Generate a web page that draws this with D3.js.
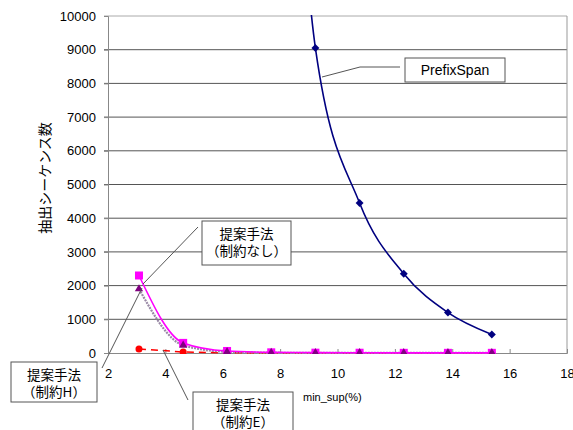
<!DOCTYPE html>
<html>
<head>
<meta charset="utf-8">
<script src="https://cdn.jsdelivr.net/npm/d3@7"></script>
<style>
  body { margin: 0; background: #fff; }
  text { font-family: "Liberation Sans", Arial, sans-serif; }
  .jp { font-family: "Noto Sans CJK JP", sans-serif; }
</style>
</head>
<body>
<svg id="chart" width="573" height="430"></svg>
<script>
// min_sup (%) values
const minSup = [3.08, 4.62, 6.15, 7.69, 9.23, 10.77, 12.31, 13.85, 15.38];
const prefixSpan = [null, null, null, 30000, 9050, 4450, 2350, 1200, 550];
const noConstraint = [2300, 300, 60, 20, 10, 8, 5, 5, 5];
const constraintH = [1900, 230, 35, 10, 5, 5, 3, 3, 3];
const constraintE = [120, 30, 5, 2, 1, 1, 1, 1, 1];
const xTicks = [2, 4, 6, 8, 10, 12, 14, 16, 18];
const yTicks = [0, 1000, 2000, 3000, 4000, 5000, 6000, 7000, 8000, 9000, 10000];

const svg = d3.select("#chart");
const pLeft = 108, pRight = 567, pTop = 16, pBottom = 353;

const x = d3.scaleLinear([2, 18], [pLeft, pRight]);
const y = d3.scaleLinear([0, 10000], [pBottom, pTop]);

svg.append("defs").append("clipPath").attr("id", "plot")
  .append("rect").attr("x", pLeft).attr("y", pTop - 1)
  .attr("width", pRight - pLeft).attr("height", pBottom - pTop + 2);

// gridlines
svg.append("g").selectAll("line").data(yTicks.slice(1, -1)).join("line")
  .attr("x1", pLeft - 4).attr("x2", pRight)
  .attr("y1", d => y(d)).attr("y2", d => y(d))
  .attr("stroke", "#555").attr("stroke-width", 1);

// plot frame top/right
svg.append("line").attr("x1", pLeft - 4).attr("x2", pRight).attr("y1", pTop).attr("y2", pTop)
  .attr("stroke", "#aaa");
svg.append("line").attr("x1", pRight).attr("x2", pRight).attr("y1", pTop).attr("y2", pBottom)
  .attr("stroke", "#999");

// axes
const yAxis = svg.append("g").attr("transform", `translate(${pLeft},0)`)
  .call(d3.axisLeft(y).tickValues(yTicks).tickSize(4).tickPadding(8).tickFormat(d3.format("d")));
const xAxis = svg.append("g").attr("transform", `translate(0,${pBottom})`)
  .call(d3.axisBottom(x).tickValues(xTicks).tickSize(-4).tickPadding(16));
[yAxis, xAxis].forEach(g => {
  g.select(".domain").attr("stroke", "#888");
  g.selectAll(".tick line").attr("stroke", "#888");
  g.selectAll("text").attr("font-size", "13px").attr("fill", "#000")
    .attr("font-family", "'Liberation Sans', Arial, sans-serif");
});

const plot = svg.append("g").attr("clip-path", "url(#plot)");

function points(vals) {
  return minSup.map((m, i) => [m, vals[i]]).filter(d => d[1] != null);
}
const smooth = d3.line().x(d => x(d[0])).y(d => y(d[1])).curve(d3.curveMonotoneX);
const straight = d3.line().x(d => x(d[0])).y(d => y(d[1]));

// lines
plot.append("path").attr("d", straight(points(constraintE)))
  .attr("fill", "none").attr("stroke", "#f00").attr("stroke-width", 1.5)
  .attr("stroke-dasharray", "7,5");
plot.append("path").attr("d", smooth(points(constraintH)))
  .attr("fill", "none").attr("stroke", "#9a8aa6").attr("stroke-width", 2.2)
  .attr("stroke-dasharray", "2,1");
plot.append("path").attr("d", smooth(points(noConstraint)))
  .attr("fill", "none").attr("stroke", "#ff00ff").attr("stroke-width", 1.6);
plot.append("path").attr("d", smooth(points(prefixSpan)))
  .attr("fill", "none").attr("stroke", "#000080").attr("stroke-width", 1.6);

// markers
plot.append("g").selectAll("circle").data(points(constraintE)).join("circle")
  .attr("cx", d => x(d[0])).attr("cy", d => y(d[1])).attr("r", 3.5).attr("fill", "#f00");
plot.append("g").selectAll("rect").data(points(noConstraint)).join("rect")
  .attr("x", d => x(d[0]) - 4).attr("y", d => y(d[1]) - 4)
  .attr("width", 8).attr("height", 8).attr("fill", "#ff00ff");
plot.append("g").selectAll("path").data(points(constraintH)).join("path")
  .attr("transform", d => `translate(${x(d[0])},${y(d[1])})`)
  .attr("d", d3.symbol(d3.symbolTriangle, 30)).attr("fill", "#800080");
plot.append("g").selectAll("path").data(points(prefixSpan)).join("path")
  .attr("transform", d => `translate(${x(d[0])},${y(d[1])})`)
  .attr("d", d3.symbol(d3.symbolDiamond2, 40)).attr("fill", "#000080");

// axis titles
svg.append("text").attr("class", "jp").attr("transform", "translate(50,178) rotate(-90)")
  .attr("text-anchor", "middle").attr("font-size", "14px").text("抽出シーケンス数");
svg.append("text").attr("x", 303).attr("y", 401).attr("font-size", "11px").text("min_sup(%)");

// callouts
const lines = [
  [[322, 77], [360, 67], [400, 67]],
  [[198, 227], [143, 284]],
  [[102, 368], [142, 288]],
  [[163, 350], [188, 400]]
];
svg.append("g").selectAll("path").data(lines).join("path")
  .attr("d", d => d3.line()(d)).attr("fill", "none").attr("stroke", "#555").attr("stroke-width", 1);

const boxes = [
  { x: 405, y: 58, w: 100, h: 24, t: ["PrefixSpan"] },
  { x: 202, y: 221, w: 89, h: 44, t: ["提案手法", "（制約なし）"] },
  { x: 11, y: 362, w: 86, h: 40, t: ["提案手法", "（制約H）"] },
  { x: 193, y: 392, w: 100, h: 44, t: ["提案手法", "（制約E）"] }
];
const bg = svg.append("g").selectAll("g").data(boxes).join("g");
bg.append("rect").attr("x", d => d.x).attr("y", d => d.y).attr("width", d => d.w).attr("height", d => d.h)
  .attr("fill", "#fff").attr("stroke", "#555");
bg.each(function(d) {
  const g = d3.select(this);
  d.t.forEach((s, i) => {
    g.append("text").attr("class", d.t.length > 1 ? "jp" : null)
      .attr("x", d.x + d.w / 2)
      .attr("y", d.t.length > 1 ? d.y + 18 + i * 17 : d.y + 17)
      .attr("text-anchor", "middle").attr("font-size", d.t.length > 1 ? "13.5px" : "14px").text(s);
  });
});
</script>
</body>
</html>
